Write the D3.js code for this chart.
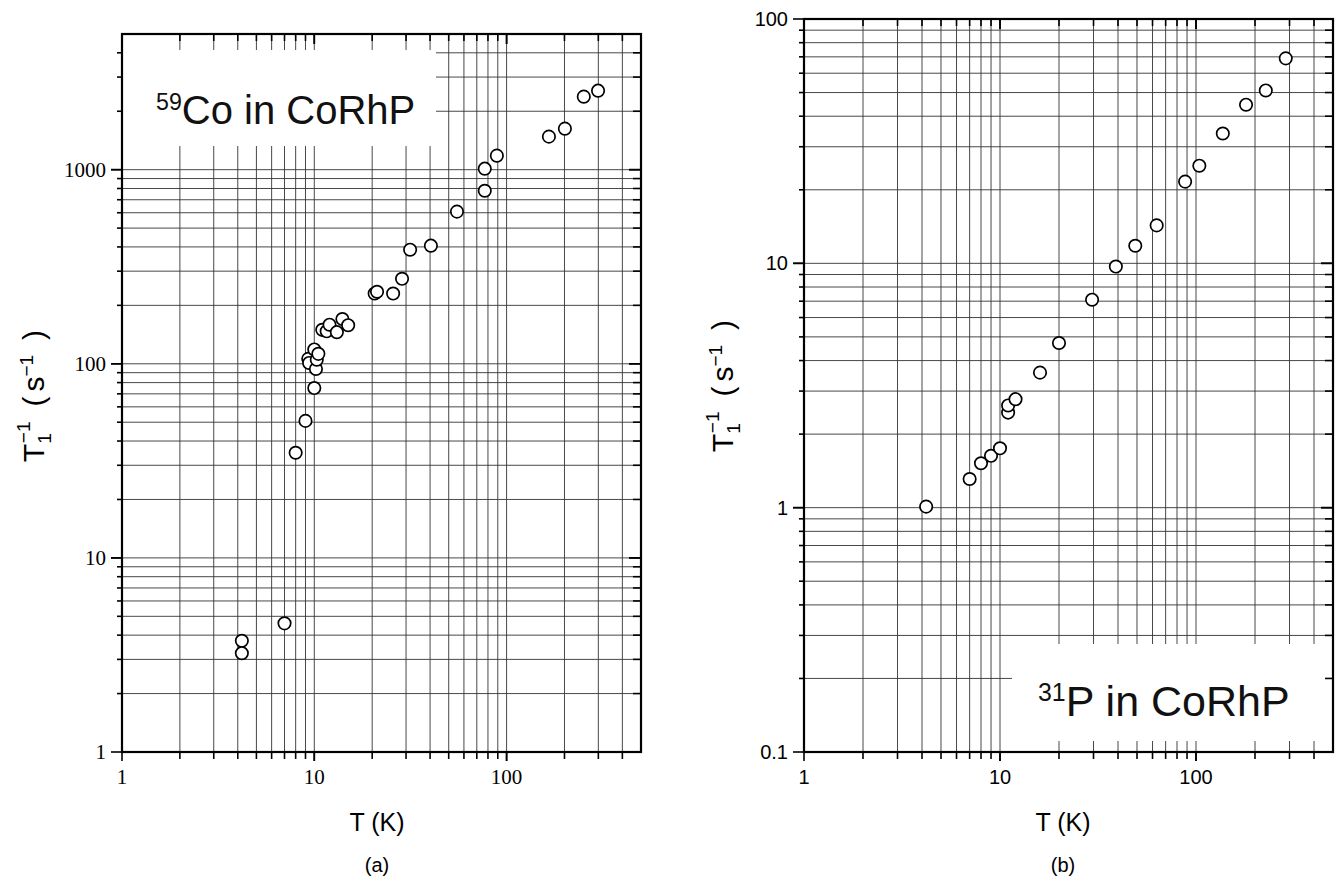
<!DOCTYPE html>
<html lang="en">
<head>
    <meta charset="UTF-8">
    <title>CoRhP T1</title>
    <script src="https://d3js.org/d3.v7.min.js"></script>
    <style>
        body { margin: 0; background: #fff; }
        svg { display: block; }
    </style>
</head>
<body>
<div id="chart"></div>
<script>
    // panel (a): 59Co in CoRhP
    const coT = [4.2, 4.2, 7.0, 8.0, 9.0, 9.3, 9.4, 10.0, 10.0, 10.2, 10.3, 10.5, 11.0, 11.6, 12.0, 13.1, 14.0, 15.0,
        20.6, 21.2, 25.7, 28.6, 31.5, 40.4, 55.2, 77, 77, 89, 166, 201, 252, 299];
    const coRate = [3.74, 3.23, 4.6, 34.8, 50.8, 106, 101, 75, 118.5, 94, 105, 112.5, 149.6, 147, 159, 145.5, 170, 158,
        230, 235, 230, 274, 387, 406, 608, 1012, 779, 1181, 1480, 1627, 2378, 2553];

    // panel (b): 31P in CoRhP
    const pT = [4.2, 7.0, 8.0, 9.0, 10.0, 11.0, 11.0, 12.0, 16.0, 20.0, 29.5, 39, 49, 63, 88, 104, 137, 180, 227, 287];
    const pRate = [1.01, 1.31, 1.52, 1.63, 1.75, 2.45, 2.62, 2.78, 3.57, 4.72, 7.1, 9.7, 11.8, 14.3, 21.6, 25.1, 34, 44.6, 51, 69];

    const xTicks = [1, 10, 100];
    const yTicksA = [1, 10, 100, 1000];
    const yTicksB = [0.1, 1, 10, 100];

    const width = 1337, height = 886;
    const svg = d3.select("#chart").append("svg")
        .attr("width", width)
        .attr("height", height);

    // all 1..9 x 10^k values strictly inside a log domain
    function logGrid(domain) {
        const out = [];
        for (let e = Math.floor(Math.log10(domain[0])); e <= Math.ceil(Math.log10(domain[1])); e++) {
            for (let k = 1; k <= 9; k++) {
                const v = k * Math.pow(10, e);
                if (v > domain[0] * 1.0001 && v < domain[1] * 0.9999) out.push(v);
            }
        }
        return out;
    }
    const isMajor = v => Math.abs(Math.log10(v) - Math.round(Math.log10(v))) < 1e-6;

    function drawPanel(cfg) {
        const x = d3.scaleLog().domain(cfg.xDomain).range([cfg.left, cfg.right]);
        const y = d3.scaleLog().domain(cfg.yDomain).range([cfg.bottom, cfg.top]);
        const g = svg.append("g");

        const xg = logGrid(cfg.xDomain), yg = logGrid(cfg.yDomain);

        // grid
        g.append("g").selectAll("line").data(xg).join("line")
            .attr("x1", d => x(d)).attr("x2", d => x(d))
            .attr("y1", cfg.top).attr("y2", cfg.bottom)
            .attr("stroke", "#333").attr("stroke-width", 0.9);
        g.append("g").selectAll("line").data(yg).join("line")
            .attr("x1", cfg.left).attr("x2", cfg.right)
            .attr("y1", d => y(d)).attr("y2", d => y(d))
            .attr("stroke", "#333").attr("stroke-width", 0.9);

        // white label box hiding the grid
        const b = cfg.box;
        g.append("rect")
            .attr("x", b.x).attr("y", b.y).attr("width", b.w).attr("height", b.h)
            .attr("fill", "#fff");
        const lab = g.append("text")
            .attr("x", b.tx).attr("y", b.ty)
            .attr("font-family", "Liberation Sans, Arial, sans-serif")
            .attr("font-size", cfg.labelSize)
            .attr("fill", "#111");
        lab.append("tspan").attr("font-size", cfg.labelSize * 0.58).attr("dy", -cfg.labelSize * 0.36).text(cfg.iso);
        lab.append("tspan").attr("dy", cfg.labelSize * 0.36).text(cfg.label);

        // ticks: bottom/left outward, top/right inward
        const tk = g.append("g").attr("stroke", "#000").attr("stroke-width", 1.6);
        const xt = xg.concat(xTicks.filter(v => v > cfg.xDomain[0]));
        tk.selectAll(".xb").data(xt).join("line").attr("class", "xb")
            .attr("x1", d => x(d)).attr("x2", d => x(d))
            .attr("y1", cfg.bottom).attr("y2", d => cfg.bottom + (isMajor(d) ? 9 : 7));
        tk.selectAll(".xt").data(xt).join("line").attr("class", "xt")
            .attr("x1", d => x(d)).attr("x2", d => x(d))
            .attr("y1", cfg.top).attr("y2", d => cfg.top + (isMajor(d) ? 10 : 7));
        const yt = yg.concat(cfg.yTicks.filter(v => v > cfg.yDomain[0]));
        tk.selectAll(".yl").data(yt.concat([cfg.yDomain[0]])).join("line").attr("class", "yl")
            .attr("x1", cfg.left).attr("x2", d => cfg.left - (isMajor(d) ? 11 : 5))
            .attr("y1", d => y(d)).attr("y2", d => y(d));
        tk.selectAll(".yr").data(yt).join("line").attr("class", "yr")
            .attr("x1", cfg.right).attr("x2", d => cfg.right - (isMajor(d) ? 12 : 8))
            .attr("y1", d => y(d)).attr("y2", d => y(d));
        tk.append("line").attr("x1", cfg.left).attr("x2", cfg.left)
            .attr("y1", cfg.bottom).attr("y2", cfg.bottom + 9);

        // frame
        g.append("rect")
            .attr("x", cfg.left).attr("y", cfg.top)
            .attr("width", cfg.right - cfg.left).attr("height", cfg.bottom - cfg.top)
            .attr("fill", "none").attr("stroke", "#000").attr("stroke-width", 2.2);

        // points
        g.append("g").selectAll("circle").data(cfg.xs).join("circle")
            .attr("cx", (d, i) => x(d))
            .attr("cy", (d, i) => y(cfg.ys[i]))
            .attr("r", 6.2)
            .attr("fill", "#fff").attr("stroke", "#000").attr("stroke-width", 1.7);

        // tick labels
        g.append("g").selectAll("text").data(xTicks).join("text")
            .attr("x", d => x(d)).attr("y", cfg.bottom + 32)
            .attr("text-anchor", "middle")
            .attr("font-family", cfg.tickFont).attr("font-size", cfg.tickSize)
            .text(d => d);
        g.append("g").selectAll("text").data(cfg.yTicks).join("text")
            .attr("x", cfg.left - 16).attr("y", d => y(d))
            .attr("dy", "0.35em")
            .attr("text-anchor", "end")
            .attr("font-family", cfg.tickFont).attr("font-size", cfg.tickSize)
            .text(d => d);

        // axis titles
        const cx = cfg.titleX;
        g.append("text").attr("x", cx).attr("y", 831)
            .attr("text-anchor", "middle")
            .attr("font-family", "Liberation Sans, Arial, sans-serif").attr("font-size", 25)
            .text("T (K)");
        g.append("text").attr("x", cx).attr("y", 872)
            .attr("text-anchor", "middle")
            .attr("font-family", "Liberation Sans, Arial, sans-serif").attr("font-size", 20)
            .text(cfg.tag);

        const yl = g.append("text")
            .attr("transform", `translate(${cfg.yTitleX},${cfg.yTitleY}) rotate(-90)`)
            .attr("text-anchor", "middle")
            .attr("font-family", "Liberation Sans, Arial, sans-serif").attr("font-size", 30);
        yl.append("tspan").text("T");
        yl.append("tspan").attr("font-size", 19).attr("dy", 7).text("1");
        yl.append("tspan").attr("font-size", 19).attr("dy", -21).attr("dx", -10).text("\u22121");
        yl.append("tspan").attr("dy", 14).attr("dx", 15).text("(");
        yl.append("tspan").attr("dx", 5).text("s");
        yl.append("tspan").attr("font-size", 19).attr("dy", -11).text("\u22121");
        yl.append("tspan").attr("dy", 11).attr("dx", 15).text(")");
    }

    drawPanel({
        left: 122, right: 641, top: 34, bottom: 752,
        xDomain: [1, 500], yDomain: [1, 5000], yTicks: yTicksA,
        xs: coT, ys: coRate,
        tickFont: "Liberation Serif, Times New Roman, serif", tickSize: 21,
        box: {x: 123, y: 50, w: 313, h: 96, tx: 156, ty: 124},
        iso: "59", label: "Co in CoRhP", labelSize: 40,
        titleX: 377, tag: "(a)", yTitleX: 44, yTitleY: 396
    });

    drawPanel({
        left: 804, right: 1333, top: 19, bottom: 752,
        xDomain: [1, 500], yDomain: [0.1, 100], yTicks: yTicksB,
        xs: pT, ys: pRate,
        tickFont: "Liberation Sans, Arial, sans-serif", tickSize: 20,
        box: {x: 1012, y: 644, w: 320, h: 97, tx: 1038, ty: 716},
        iso: "31", label: "P in CoRhP", labelSize: 43,
        titleX: 1063, tag: "(b)", yTitleX: 733, yTitleY: 386
    });
</script>
</body>
</html>
